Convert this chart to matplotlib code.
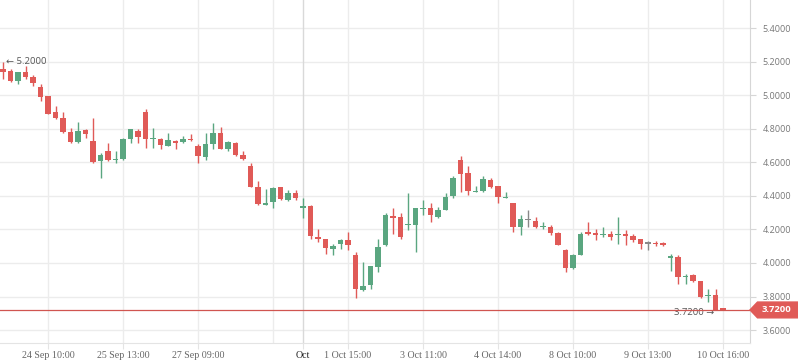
import numpy as np
import matplotlib.pyplot as plt
from matplotlib.patches import Polygon
import matplotlib.transforms as mtransforms

# OHLC, one candle per bar
opens = [5.156, 5.144, 5.086, 5.138, 5.108, 5.048, 4.995, 4.899, 4.864, 4.780,
         4.722, 4.792, 4.727, 4.609, 4.667, 4.615, 4.619, 4.739, 4.786, 4.899,
         4.737, 4.739, 4.697, 4.727, 4.721, 4.740, 4.697, 4.633, 4.711, 4.774,
         4.681, 4.715, 4.643, 4.578, 4.452, 4.347, 4.365, 4.452, 4.375, 4.417,
         4.329, 4.339, 4.154, 4.143, 4.085, 4.115, 4.137, 4.047, 3.840, 3.870,
         3.978, 4.105, 4.276, 4.274, 4.226, 4.228, 4.323, 4.327, 4.274, 4.315,
         4.401, 4.613, 4.536, 4.424, 4.430, 4.494, 4.458, 4.389, 4.357, 4.216,
         4.256, 4.250, 4.216, 4.214, 4.178, 4.077, 3.972, 4.049, 4.184, 4.178,
         4.168, 4.174, 4.168, 4.174, 4.160, 4.143, 4.115, 4.117, 4.113, 4.028,
         4.033, 3.914, 3.926, 3.892, 3.805, 3.807, 3.730]
highs = [5.200, 5.154, 5.138, 5.174, 5.122, 5.066, 4.995, 4.935, 4.899, 4.804,
         4.840, 4.798, 4.864, 4.653, 4.715, 4.667, 4.744, 4.798, 4.798, 4.917,
         4.804, 4.744, 4.774, 4.733, 4.756, 4.770, 4.709, 4.774, 4.834, 4.810,
         4.727, 4.721, 4.667, 4.595, 4.490, 4.441, 4.452, 4.452, 4.435, 4.435,
         4.389, 4.345, 4.204, 4.143, 4.113, 4.143, 4.184, 4.065, 4.006, 3.982,
         4.143, 4.299, 4.329, 4.299, 4.417, 4.329, 4.375, 4.357, 4.333, 4.417,
         4.518, 4.639, 4.578, 4.458, 4.518, 4.506, 4.458, 4.423, 4.357, 4.286,
         4.315, 4.274, 4.244, 4.226, 4.184, 4.083, 4.053, 4.184, 4.244, 4.202,
         4.214, 4.190, 4.274, 4.196, 4.172, 4.143, 4.133, 4.129, 4.125, 4.055,
         4.047, 3.934, 3.932, 3.892, 3.843, 3.843, 3.730]
lows = [5.096, 5.078, 5.068, 5.098, 5.056, 4.965, 4.889, 4.858, 4.774, 4.716,
        4.716, 4.746, 4.595, 4.508, 4.609, 4.597, 4.613, 4.715, 4.715, 4.685,
        4.687, 4.681, 4.697, 4.681, 4.715, 4.727, 4.597, 4.615, 4.681, 4.681,
        4.669, 4.639, 4.615, 4.454, 4.347, 4.347, 4.329, 4.377, 4.369, 4.375,
        4.270, 4.144, 4.126, 4.055, 4.049, 4.085, 4.079, 3.793, 3.835, 3.846,
        3.948, 4.099, 4.172, 4.144, 4.196, 4.067, 4.286, 4.244, 4.268, 4.315,
        4.387, 4.424, 4.407, 4.424, 4.424, 4.448, 4.359, 4.389, 4.186, 4.168,
        4.216, 4.210, 4.200, 4.168, 4.109, 3.948, 3.966, 4.049, 4.168, 4.139,
        4.156, 4.139, 4.115, 4.109, 4.126, 4.085, 4.077, 4.099, 4.099, 3.954,
        3.876, 3.876, 3.886, 3.793, 3.765, 3.720, 3.720]
closes = [5.138, 5.086, 5.138, 5.110, 5.074, 4.991, 4.889, 4.864, 4.780, 4.722,
          4.786, 4.767, 4.601, 4.641, 4.615, 4.621, 4.739, 4.798, 4.750, 4.740,
          4.741, 4.705, 4.733, 4.717, 4.739, 4.733, 4.639, 4.709, 4.774, 4.681,
          4.721, 4.645, 4.621, 4.454, 4.353, 4.357, 4.447, 4.383, 4.417, 4.389,
          4.339, 4.162, 4.144, 4.091, 4.103, 4.137, 4.109, 3.846, 3.862, 3.982,
          4.097, 4.287, 4.270, 4.156, 4.234, 4.327, 4.329, 4.286, 4.315, 4.393,
          4.506, 4.532, 4.430, 4.429, 4.500, 4.454, 4.395, 4.393, 4.216, 4.262,
          4.256, 4.216, 4.222, 4.180, 4.109, 3.972, 4.047, 4.172, 4.174, 4.168,
          4.174, 4.156, 4.174, 4.162, 4.138, 4.115, 4.115, 4.111, 4.109, 4.041,
          3.918, 3.920, 3.890, 3.799, 3.811, 3.720, 3.720]

tick_idx = [6, 16, 26, 40, 46, 56, 66, 76, 86, 96]
tick_labels = ['24 Sep 10:00', '25 Sep 13:00', '27 Sep 09:00', 'Oct', '1 Oct 15:00',
               '3 Oct 11:00', '4 Oct 14:00', '8 Oct 10:00', '9 Oct 13:00', '10 Oct 16:00']
extra_grid = [36]
y_ticks = [3.6, 3.8, 4.0, 4.2, 4.4, 4.6, 4.8, 5.0, 5.2, 5.4]

RED = '#e05a57'
GREEN = '#5aa680'
GRAY = '#888888'

o = np.array(opens); h = np.array(highs); l = np.array(lows); c = np.array(closes)
x = np.arange(len(o))
cols = [GREEN if cc > oo else (RED if cc < oo else GRAY) for oo, cc in zip(o, c)]

fig = plt.figure(figsize=(7.98, 3.63), dpi=100)
ax = fig.add_axes([0, 1 - 343 / 363, 750 / 798, 343 / 363])
ax.set_xlim(-0.4, 99.6)
ax.set_ylim(3.523, 5.567)

# grid
for v in y_ticks:
    ax.axhline(v, color='#ececec', lw=1, zorder=0)
for i in tick_idx + extra_grid:
    ax.axvline(i, color='#d9d9d9' if i == 40 else '#ececec', lw=1, zorder=0)

# candles
ax.vlines(x, l, h, colors=cols, lw=1, zorder=2)
body_lo = np.minimum(o, c)
body_h = np.maximum(np.abs(c - o), 0.007)
ax.bar(x, body_h, bottom=body_lo, width=0.68, color=cols, zorder=3, linewidth=0)

# last price line + tag
last = c[-1]
ax.axhline(last, color='#d05550', lw=0.9, zorder=4)
trans = mtransforms.blended_transform_factory(ax.transAxes, ax.transData)
hh = 0.047
tag = Polygon([(1.0, last), (1.01, last + hh), (1.07, last + hh),
               (1.07, last - hh), (1.01, last - hh)],
              closed=True, transform=trans, clip_on=False, color='#e05a57', zorder=5)
ax.add_patch(tag)
ax.text(1.016, last, f'{last:.4f}', transform=trans, color='white', fontsize=6.8,
        fontweight='bold', family='Open Sans', va='center', ha='left', zorder=6, clip_on=False)

# max / min markers
imax = int(np.argmax(h))
imin = int(np.argmin(l))
ax.annotate(f'\u2190 {h[imax]:.4f}', (imax, h[imax]), xytext=(2, 0), textcoords='offset points',
            fontsize=6.8, color='#555555', va='center', ha='left', family=['Open Sans', 'DejaVu Sans'],
            zorder=1)
ax.annotate(f'{l[imin]:.4f} \u2192', (imin, l[imin]), xytext=(-1, -1.5), textcoords='offset points',
            fontsize=6.8, color='#555555', va='center', ha='right', family=['Open Sans', 'DejaVu Sans'],
            zorder=1)

# axes styling
for s in ['top', 'left']:
    ax.spines[s].set_visible(False)
ax.spines['right'].set_color('#d6d6d6')
ax.spines['bottom'].set_color('#e4e4e4')

ax.yaxis.tick_right()
ax.set_yticks(y_ticks)
ax.set_yticklabels([f'{v:.4f}' for v in y_ticks], family='Open Sans', fontsize=6.5, color='#777777')
ax.tick_params(axis='y', length=4, color='#d6d6d6', pad=5)

ax.set_xticks(tick_idx)
ax.set_xticklabels(tick_labels, family='Liberation Serif', fontsize=7.2, color='#666666')
ax.tick_params(axis='x', length=4, color='#e4e4e4', pad=2)
for lab in ax.get_xticklabels():
    if lab.get_text() == 'Oct':
        lab.set_color('#222222')

fig.savefig('out.png', dpi=100)
